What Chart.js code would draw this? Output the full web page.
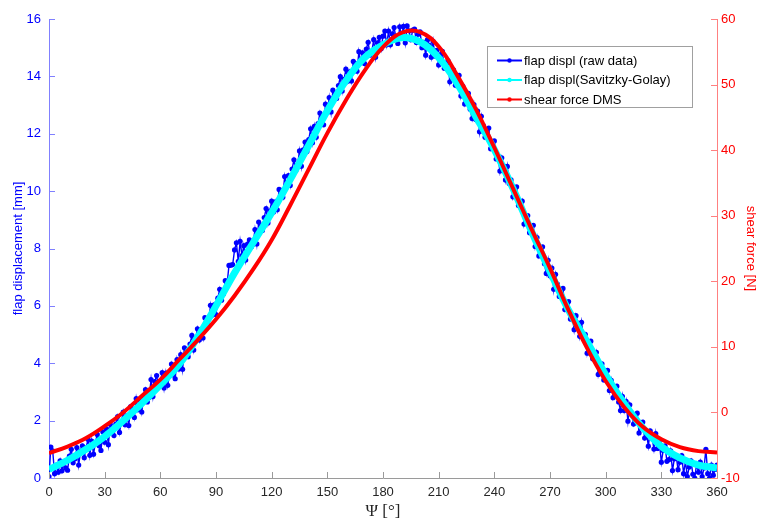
<!DOCTYPE html>
<html><head><meta charset="utf-8">
<script src="https://cdn.jsdelivr.net/npm/chart.js@4/dist/chart.umd.min.js"></script>
<style>html,body{margin:0;padding:0;background:#fff}</style>
</head><body>
<canvas id="c" width="758" height="522"></canvas>
<script>
// ---- data ----
const xTickValues = [0,30,60,90,120,150,180,210,240,270,300,330,360];
const leftTickValues = [0,2,4,6,8,10,12,14,16];
const rightTickValues = [-10,0,10,20,30,40,50,60];

// raw flap displacement, one sample per degree, 0..360
const rawDispl = [
0.05,1.08,0.95,0.15,0.45,0.20,0.60,0.25,0.55,0.35,
0.27,0.76,1.00,0.53,0.67,1.06,0.45,0.94,1.12,0.71,
1.05,1.35,0.79,1.29,0.83,1.23,1.52,1.12,0.96,1.61,
1.25,1.71,1.16,1.87,1.72,1.48,1.88,2.14,1.59,1.95,
2.30,1.86,2.17,1.83,2.49,2.40,2.11,2.77,2.38,2.69,
2.30,2.82,3.08,2.65,2.81,3.43,2.84,3.36,3.57,3.19,
3.35,3.67,3.14,3.66,3.23,3.65,3.97,3.59,3.46,4.13,
3.80,4.30,3.79,4.54,4.43,4.23,4.67,4.97,4.46,4.86,
5.20,4.81,5.17,4.88,5.59,5.55,5.31,6.02,5.68,6.04,
5.70,6.27,6.58,6.20,6.41,6.88,6.79,7.41,7.42,7.44,
7.95,8.20,7.55,8.25,7.75,8.10,7.60,8.15,8.30,8.05,
8.15,8.66,8.16,8.92,8.82,8.63,9.08,9.39,8.89,9.30,
9.65,9.27,9.63,9.35,10.06,10.03,9.79,10.51,10.17,10.54,
10.20,10.77,11.09,10.71,10.93,11.40,10.87,11.44,11.71,11.38,
11.80,12.17,11.69,12.26,11.88,12.35,12.72,12.39,12.31,13.03,
12.75,13.26,12.76,13.52,13.42,13.23,13.68,13.99,13.49,13.90,
14.25,13.83,14.16,13.84,14.52,14.45,14.18,14.86,14.49,14.82,
14.45,14.95,15.19,14.74,14.88,15.28,14.67,15.17,15.36,14.96,
15.40,15.58,15.10,15.58,15.10,15.48,15.70,15.33,15.15,15.73,
15.40,15.74,15.17,15.76,15.59,15.28,15.61,15.65,15.18,15.47,
15.55,15.00,15.19,14.74,15.28,15.08,14.67,15.22,14.71,14.91,
14.40,14.76,14.87,14.28,14.29,14.55,13.81,14.17,14.23,13.69,
13.90,14.04,13.32,13.66,13.04,13.28,13.41,12.85,12.53,13.02,
12.50,12.79,12.07,12.61,12.29,11.88,12.11,12.20,11.48,11.67,
11.75,11.12,11.23,10.70,11.16,10.88,10.39,10.86,10.27,10.39,
9.80,10.10,10.15,9.50,9.45,9.65,8.85,9.15,9.15,8.55,
8.70,8.81,8.07,8.38,7.74,7.95,8.06,7.47,7.13,7.59,
7.05,7.32,6.58,7.10,6.76,6.33,6.54,6.61,5.87,6.04,
6.15,5.54,5.68,5.17,5.66,5.40,4.94,5.43,4.87,5.01,
4.35,4.69,4.77,4.16,4.14,4.38,3.61,3.95,3.98,3.42,
3.60,3.75,3.05,3.40,2.80,3.05,3.20,2.65,2.35,2.85,
2.35,2.67,1.98,2.55,2.26,1.88,2.14,2.26,1.57,1.79,
1.95,1.39,1.57,1.11,1.64,1.43,1.01,1.55,1.03,1.22,
0.55,0.96,1.12,0.58,0.64,0.95,0.26,0.67,0.78,0.29,
0.55,0.78,0.15,0.58,0.05,0.38,0.60,0.13,0.00,0.48,
0.20,0.55,0.05,0.35,1.00,0.15,0.00,0.45,0.10,0.30,
0.45];
const rawAngles = rawDispl.map((v,i)=>i); // sample i is taken at i degrees

const smoothAngles = [0,10,20,30,40,50,60,70,80,90,100,110,120,130,140,150,160,170,180,190,200,210,220,230,240,250,260,270,280,290,300,310,320,330,340,350,360];
const sgDispl = [0.30,0.62,1.00,1.45,2.00,2.60,3.25,3.95,4.90,6.00,7.15,8.20,9.25,10.40,11.60,12.80,13.85,14.65,15.10,15.35,15.20,14.65,13.75,12.60,11.45,10.10,8.60,7.20,5.85,4.75,3.60,2.60,1.75,1.10,0.70,0.45,0.35];
const shearForce = [-6.2,-5.2,-3.9,-2.1,0.0,2.5,5.0,8.0,11.0,14.2,17.8,21.8,26.3,31.6,37.1,42.6,47.6,52.1,55.7,57.9,58.0,55.8,51.4,46.3,40.4,34.2,28.0,22.0,15.6,9.8,4.8,0.8,-2.2,-4.1,-5.3,-5.9,-6.1];

const seriesNames = ['flap displ (raw data)','flap displ(Savitzky-Golay)','shear force DMS'];
const seriesColors = ['#0000ff','#00ffff','#ff0000'];

// ---- plugins ----
const FONT = "'Liberation Sans', Arial, sans-serif";
const innerTicks = {
  id:'innerTicks',
  afterDraw(chart){
    const ctx = chart.ctx, a = chart.chartArea;
    const sx = chart.scales.x, yl = chart.scales.y, yr = chart.scales.y1;
    ctx.save();
    ctx.lineWidth = 1;
    ctx.strokeStyle = '#9a9a9a';
    sx.ticks.forEach(t=>{const p=Math.round(sx.getPixelForValue(t.value))+0.5;ctx.beginPath();ctx.moveTo(p,a.bottom);ctx.lineTo(p,a.bottom-6);ctx.stroke();});
    ctx.strokeStyle = '#8080ff';
    yl.ticks.forEach(t=>{const p=Math.round(yl.getPixelForValue(t.value))+0.5;ctx.beginPath();ctx.moveTo(a.left,p);ctx.lineTo(a.left+6,p);ctx.stroke();});
    ctx.strokeStyle = '#ff8080';
    yr.ticks.forEach(t=>{const p=Math.round(yr.getPixelForValue(t.value))+0.5;ctx.beginPath();ctx.moveTo(a.right,p);ctx.lineTo(a.right-6,p);ctx.stroke();});
    ctx.restore();
  }
};
const boxLegend = {
  id:'boxLegend',
  afterDraw(chart){
    const ctx = chart.ctx;
    const x0 = 487.5, y0 = 46.5, w = 205, h = 61;
    ctx.save();
    ctx.fillStyle = '#fff';
    ctx.fillRect(x0,y0,w,h);
    ctx.strokeStyle = '#a0a0a0';
    ctx.lineWidth = 1;
    ctx.strokeRect(x0,y0,w,h);
    ctx.font = '13px ' + FONT;
    ctx.textBaseline = 'middle';
    const rows = [60.5, 80, 99.5];
    seriesNames.forEach((n,i)=>{
      const y = rows[i];
      ctx.strokeStyle = seriesColors[i];
      ctx.lineWidth = 2;
      ctx.beginPath(); ctx.moveTo(497,y); ctx.lineTo(522,y); ctx.stroke();
      ctx.fillStyle = seriesColors[i];
      ctx.beginPath(); ctx.arc(509.5,y,2.2,0,Math.PI*2); ctx.fill();
      ctx.fillStyle = '#000';
      ctx.fillText(n, 524, y+0.5);
    });
    ctx.restore();
  }
};

const pts = (xs, ys) => xs.map((x,i)=>({x:x, y:ys[i]}));

new Chart(document.getElementById('c'), {
  type:'line',
  data:{
    datasets:[
      {label:seriesNames[0], data:pts(rawAngles,rawDispl), yAxisID:'y', order:2,
       borderColor:seriesColors[0], backgroundColor:seriesColors[0], borderWidth:1.4,
       pointRadius:2.6, pointBorderWidth:0, pointBackgroundColor:seriesColors[0], tension:0},
      {label:seriesNames[1], data:pts(smoothAngles,sgDispl), yAxisID:'y', order:1,
       borderColor:seriesColors[1], borderWidth:7, pointRadius:0, tension:0.4},
      {label:seriesNames[2], data:pts(smoothAngles,shearForce), yAxisID:'y1', order:0,
       borderColor:seriesColors[2], borderWidth:4, pointRadius:0, tension:0.4}
    ]
  },
  options:{
    responsive:false, animation:false, devicePixelRatio:1,
    layout:{padding:{top:19,left:0,right:0,bottom:0}},
    plugins:{legend:{display:false}, tooltip:{enabled:false}},
    scales:{
      x:{type:'linear', min:0, max:360,
        afterBuildTicks:s=>{s.ticks = xTickValues.map(v=>({value:v}));},
        afterFit:s=>{s.height = 44;},
        grid:{display:false, drawTicks:false},
        border:{display:true, color:'#9a9a9a', width:1},
        ticks:{color:'#262626', font:{family:FONT, size:13}, padding:7, maxRotation:0, autoSkip:false},
        title:{display:true, text:'\u03a8 [\u00b0]', color:'#262626', font:{family:"'Liberation Serif', 'Times New Roman', serif", size:17}, padding:{top:0,bottom:0}}
      },
      y:{type:'linear', position:'left', min:0, max:16,
        afterBuildTicks:s=>{s.ticks = leftTickValues.map(v=>({value:v}));},
        afterFit:s=>{s.width = 49;},
        grid:{display:false, drawTicks:false},
        border:{display:true, color:'#8080ff', width:1},
        ticks:{color:'#0000ff', font:{family:FONT, size:13}, padding:8},
        title:{display:true, text:'flap displacement [mm]', color:'#0000ff', font:{family:FONT, size:13}, padding:{top:11,bottom:0}}
      },
      y1:{type:'linear', position:'right', min:-10, max:60,
        afterBuildTicks:s=>{s.ticks = rightTickValues.map(v=>({value:v}));},
        afterFit:s=>{s.width = 41;},
        grid:{display:false, drawTicks:false},
        border:{display:true, color:'#ff8080', width:1},
        ticks:{color:'#ff0000', font:{family:FONT, size:13}, padding:4},
        title:{display:true, text:'shear force [N]', color:'#ff0000', font:{family:FONT, size:13}, padding:{top:0,bottom:0}}
      }
    }
  },
  plugins:[innerTicks, boxLegend]
});
</script>
</body></html>
